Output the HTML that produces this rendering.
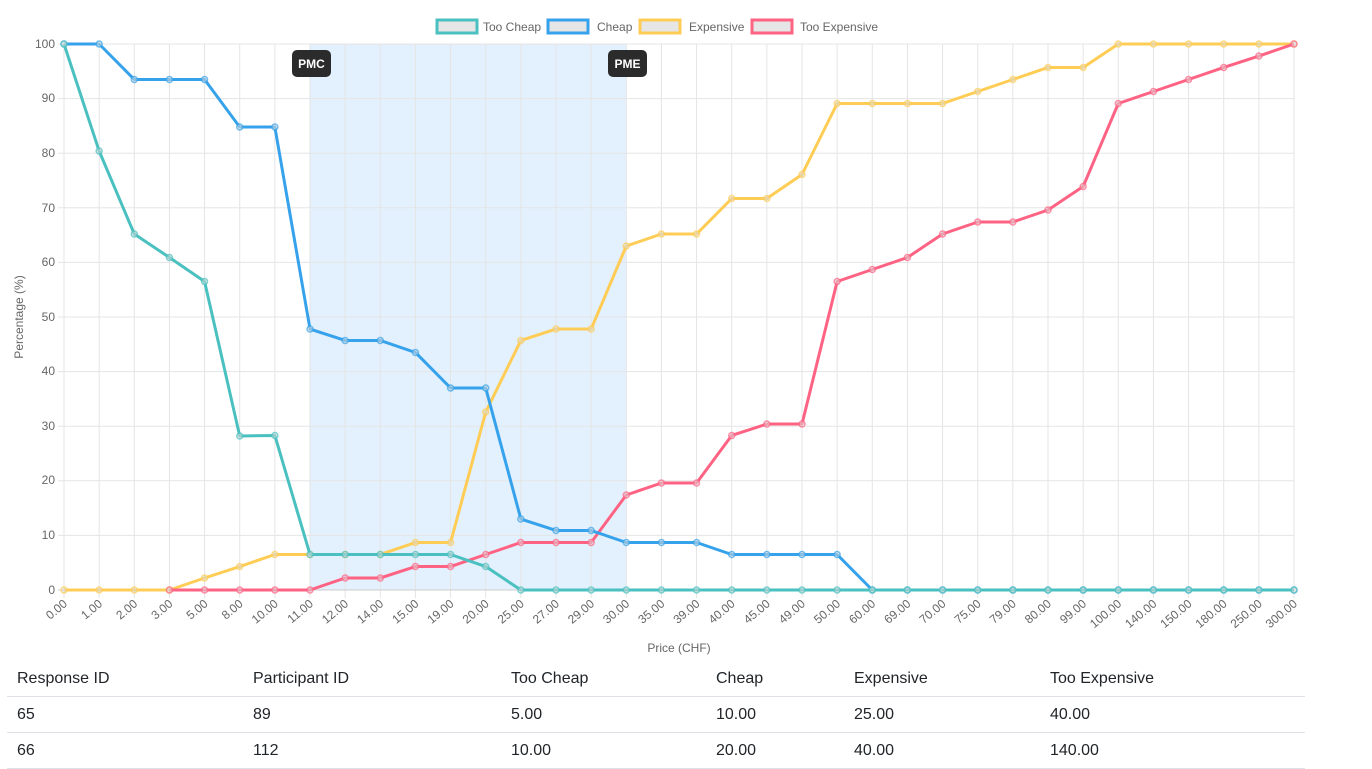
<!DOCTYPE html>
<html><head><meta charset="utf-8"><style>
body{margin:0;background:#fff;width:1372px;height:768px;overflow:hidden;font-family:"Liberation Sans",sans-serif}
svg{position:absolute;left:0;top:0}
table{position:absolute;left:7px;top:661px;width:1298px;border-collapse:collapse;font-size:16px;color:#212529}
td,th{text-align:left;font-weight:normal;padding:0 10px;height:35px;border-bottom:1px solid #dee2e6}
</style></head><body>
<svg id="c" width="1372" height="660" font-family="Liberation Sans, sans-serif">
<rect x="310" y="44" width="316.3" height="546" fill="#e3f0fd"/>
<g id="grid"></g>
<g font-size="12" fill="#666" text-anchor="end">
<text x="55" y="48">100</text><text x="55" y="102">90</text><text x="55" y="157">80</text><text x="55" y="212">70</text><text x="55" y="266">60</text><text x="55" y="321">50</text><text x="55" y="375">40</text><text x="55" y="430">30</text><text x="55" y="484">20</text><text x="55" y="539">10</text><text x="55" y="594">0</text>
</g>
<text transform="translate(23,317) rotate(-90)" font-size="12" fill="#666" text-anchor="middle">Percentage (%)</text>
<text x="679" y="652" font-size="12" fill="#666" text-anchor="middle">Price (CHF)</text>
<g id="xl" font-size="12" fill="#666" text-anchor="end"></g>
<g id="series"></g>
<g font-size="12" fill="#666">
<rect x="437" y="20" width="40" height="13" fill="#e6e6e6" stroke="#4bc0c0" stroke-width="3"/><text x="483" y="31">Too Cheap</text>
<rect x="548" y="20" width="40" height="13" fill="#e6e6e6" stroke="#36a2eb" stroke-width="3"/><text x="597" y="31">Cheap</text>
<rect x="640" y="20" width="40" height="13" fill="#e6e6e6" stroke="#ffcd56" stroke-width="3"/><text x="689" y="31">Expensive</text>
<rect x="752" y="20" width="40" height="13" fill="#e6e6e6" stroke="#ff6384" stroke-width="3"/><text x="800" y="31">Too Expensive</text>
</g>
<g font-size="12" font-weight="bold" fill="#fff" text-anchor="middle">
<rect x="292" y="50" width="39" height="27" rx="5" fill="#2b2b2b"/><text x="311.5" y="68">PMC</text>
<rect x="608" y="50" width="39" height="27" rx="5" fill="#2b2b2b"/><text x="627.5" y="68">PME</text>
</g>
</svg>
<table>
<tr><th style="width:216px">Response ID</th><th style="width:238px">Participant ID</th><th style="width:185px">Too Cheap</th><th style="width:118px">Cheap</th><th style="width:176px">Expensive</th><th>Too Expensive</th></tr>
<tr><td>65</td><td>89</td><td>5.00</td><td>10.00</td><td>25.00</td><td>40.00</td></tr>
<tr><td>66</td><td>112</td><td>10.00</td><td>20.00</td><td>40.00</td><td>140.00</td></tr>
</table>
<script>
var labels=["0.00","1.00","2.00","3.00","5.00","8.00","10.00","11.00","12.00","14.00","15.00","19.00","20.00","25.00","27.00","29.00","30.00","35.00","39.00","40.00","45.00","49.00","50.00","60.00","69.00","70.00","75.00","79.00","80.00","99.00","100.00","140.00","150.00","180.00","250.00","300.00"];
var X=function(i){return 64+i*(1230/35)},Y=function(v){return 590-v*5.46};
var g="";
for(var i=0;i<36;i++){g+='<line x1="'+X(i)+'" x2="'+X(i)+'" y1="44" y2="598" stroke="#e5e5e5"/>';}
for(var v=0;v<=100;v+=10){g+='<line x1="58" x2="1294" y1="'+Y(v)+'" y2="'+Y(v)+'" stroke="'+(v==0?'#ccc':'#e5e5e5')+'"/>';}
document.getElementById('grid').innerHTML=g;
var xl="";labels.forEach(function(l,i){xl+='<text transform="translate('+(X(i)+4)+',605) rotate(-40)">'+l+'</text>';});
document.getElementById('xl').innerHTML=xl;
var S=[
["#ffcd56",[0,0,0,0,2.2,4.3,6.5,6.5,6.5,6.5,8.7,8.7,32.6,45.7,47.8,47.8,63,65.2,65.2,71.7,71.7,76.1,89.1,89.1,89.1,89.1,91.3,93.5,95.7,95.7,100,100,100,100,100,100]],
["#ff6384",[0,0,0,0,0,0,0,0,2.2,2.2,4.3,4.3,6.5,8.7,8.7,8.7,17.4,19.6,19.6,28.3,30.4,30.4,56.5,58.7,60.9,65.2,67.4,67.4,69.6,73.9,89.1,91.3,93.5,95.7,97.8,100]],
["#36a2eb",[100,100,93.5,93.5,93.5,84.8,84.8,47.8,45.7,45.7,43.5,37,37,13,10.9,10.9,8.7,8.7,8.7,6.5,6.5,6.5,6.5,0,0,0,0,0,0,0,0,0,0,0,0,0]],
["#4bc0c0",[100,80.4,65.2,60.9,56.5,28.2,28.3,6.5,6.5,6.5,6.5,6.5,4.3,0,0,0,0,0,0,0,0,0,0,0,0,0,0,0,0,0,0,0,0,0,0,0]]];
var s="";
S.forEach(function(d){var c=d[0],v=d[1],st=(c=="#ff6384")?3:0;var p="";
for(var i=st;i<36;i++)p+=(i==st?"M":"L")+X(i)+","+Y(v[i]);
s+='<path d="'+p+'" fill="none" stroke="'+c+'" stroke-width="3" stroke-linejoin="round"/>';
for(var i=st;i<36;i++)s+='<circle cx="'+X(i)+'" cy="'+Y(v[i])+'" r="3" fill="#d9d9d9" fill-opacity="0.5" stroke="'+c+'" stroke-opacity="0.7" stroke-width="1.5"/>';});
document.getElementById('series').innerHTML=s;
</script>
</body></html>
